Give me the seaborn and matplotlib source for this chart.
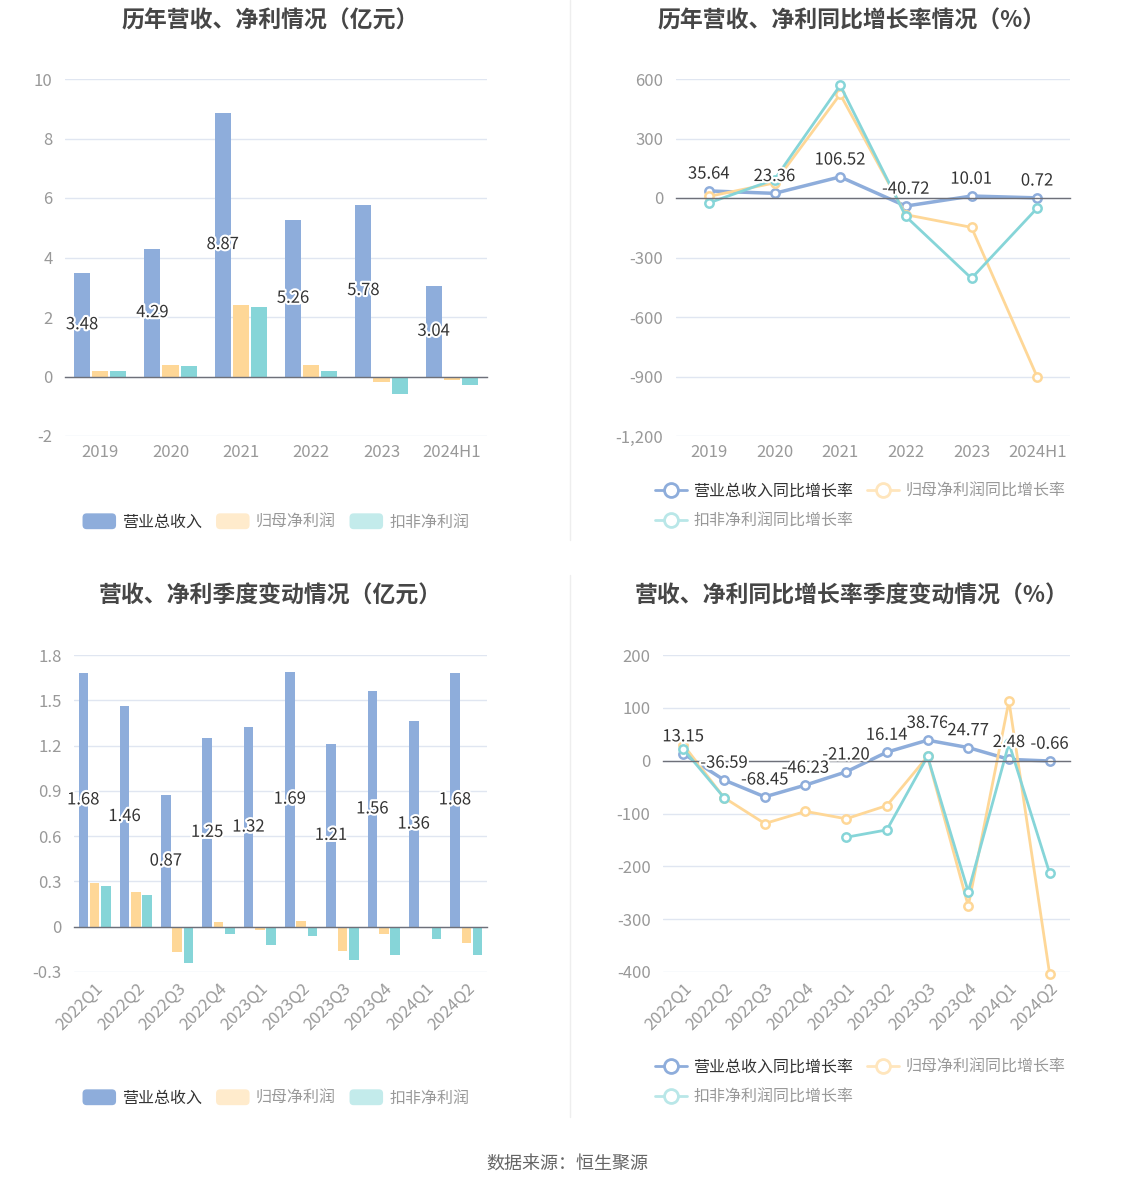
import numpy as np
import pandas as pd
import matplotlib
matplotlib.use("Agg")
import matplotlib.pyplot as plt
import matplotlib.patches as mpatches
import matplotlib.patheffects as pe
from matplotlib.lines import Line2D
from matplotlib.legend_handler import HandlerPatch
from matplotlib.ticker import FuncFormatter
import seaborn as sns

# yearly figures (亿元)
years = ["2019", "2020", "2021", "2022", "2023", "2024H1"]
year_revenue = [3.48, 4.29, 8.87, 5.26, 5.78, 3.04]
year_net = [0.20, 0.38, 2.42, 0.38, -0.19, -0.11]
year_deduct = [0.17, 0.35, 2.35, 0.17, -0.59, -0.27]

# yearly growth (%)
year_revenue_yoy = [35.64, 23.36, 106.52, -40.72, 10.01, 0.72]
year_net_yoy = [8, 76, 523, -84, -148, -902]
year_deduct_yoy = [-25, 93, 568, -93, -405, -51]

# quarterly figures (亿元)
quarters = ["2022Q1", "2022Q2", "2022Q3", "2022Q4", "2023Q1",
            "2023Q2", "2023Q3", "2023Q4", "2024Q1", "2024Q2"]
q_revenue = [1.68, 1.46, 0.87, 1.25, 1.32, 1.69, 1.21, 1.56, 1.36, 1.68]
q_net = [0.29, 0.23, -0.17, 0.03, -0.02, 0.04, -0.16, -0.05, -0.003, -0.11]
q_deduct = [0.27, 0.21, -0.24, -0.05, -0.12, -0.06, -0.22, -0.19, -0.08, -0.19]

# quarterly growth (%)
q_revenue_yoy = [13.15, -36.59, -68.45, -46.23, -21.20, 16.14, 38.76, 24.77, 2.48, -0.66]
q_net_yoy = [30, -70, -119, -96, -110, -85, 8, -275, 113, -404]
q_deduct_yoy = [22, -70, np.nan, np.nan, -145, -131, 8, -248, 33, -213]

bar_names = ["营业总收入", "归母净利润", "扣非净利润"]
line_names = ["营业总收入同比增长率", "归母净利润同比增长率", "扣非净利润同比增长率"]

BLUE = "#8eaddb"
YELLOW = "#fed797"
CYAN = "#86d5d8"
LIGHT = ["#8eaddb", "#ffebcc", "#c3ebeb"]
LIGHT_LINE = ["#8eaddb", "#ffe6bd", "#b9e7e8"]
GRID = "#e0e6f1"
AXIS = "#6e7079"
TICK = "#999999"
DARK = "#333333"

W, H = 1134, 1188
halo = [pe.withStroke(linewidth=3, foreground="white")]


def fx(px):
    return px / W


def fy(py):
    return 1 - py / H


def make_axes(fig, left, right, top, bottom):
    return fig.add_axes([fx(left), fy(bottom), fx(right - left), (bottom - top) / H])


def style_axes(ax, cats, rotate=False):
    ax.set_xlabel("")
    ax.set_ylabel("")
    for s in ["top", "right", "left"]:
        ax.spines[s].set_visible(False)
    ax.spines["bottom"].set_position(("data", 0))
    ax.spines["bottom"].set_color(AXIS)
    ax.spines["bottom"].set_linewidth(1)
    ax.tick_params(axis="x", length=5, width=1, color=AXIS, labelbottom=False, direction="out")
    ax.tick_params(axis="y", length=0, labelcolor=TICK, labelsize=12, pad=9)
    ax.grid(axis="y", color=GRID, lw=1)
    ax.grid(axis="x", visible=False)
    ax.set_axisbelow(True)
    ax.set_xlim(-0.5, len(cats) - 0.5)

    sec = ax.secondary_xaxis("bottom")
    sec.set_xticks(range(len(cats)), labels=cats)
    sec.tick_params(length=0, labelcolor=TICK, labelsize=12, pad=6)
    sec.spines["bottom"].set_visible(False)
    if rotate:
        plt.setp(sec.get_xticklabels(), rotation=45, ha="right", rotation_mode="anchor")


def draw_bars(ax, cats, revenue, net, deduct, width, gap):
    df = pd.DataFrame({
        "cat": cats * 3,
        "value": revenue + net + deduct,
        "series": [bar_names[0]] * len(cats) + [bar_names[1]] * len(cats) + [bar_names[2]] * len(cats),
    })
    sns.barplot(data=df, x="cat", y="value", hue="series", hue_order=bar_names,
                palette=dict(zip(bar_names, [BLUE, YELLOW, CYAN])), saturation=1,
                width=width, gap=gap, linewidth=0, legend=False, ax=ax)
    ax.bar_label(ax.containers[0], labels=[f"{v:.2f}" for v in revenue], label_type="center",
                 fontsize=12, color=DARK, path_effects=halo)


def draw_lines(ax, cats, revenue_yoy, net_yoy, deduct_yoy):
    series = [(revenue_yoy, BLUE, 2.5), (net_yoy, YELLOW, 2), (deduct_yoy, CYAN, 2)]
    for values, color, lw in series:
        df = pd.DataFrame({"cat": cats, "value": values})
        df["seg"] = df["value"].isna().cumsum()
        df = df.dropna()
        sns.lineplot(data=df, x="cat", y="value", units="seg", estimator=None, sort=False,
                     color=color, lw=lw, marker="o", markersize=6, markerfacecolor="white",
                     markeredgecolor=color, markeredgewidth=1.8, clip_on=False, ax=ax)
    for i, v in enumerate(revenue_yoy):
        ax.annotate(f"{v:.2f}", (i, v), xytext=(0, 6), textcoords="offset points",
                    ha="center", va="bottom", fontsize=12, color=DARK, path_effects=halo)


def round_box(legend, orig_handle, xdescent, ydescent, width, height, fontsize):
    return mpatches.FancyBboxPatch((-xdescent, -ydescent), width, height,
                                   boxstyle="round,pad=0,rounding_size=3")


def bar_legend(fig, cx, cy):
    handles = [mpatches.Patch(facecolor=c, edgecolor="none") for c in LIGHT]
    leg = fig.legend(handles, bar_names, loc="center", bbox_to_anchor=(fx(cx), fy(cy)),
                     ncol=3, frameon=False, fontsize=11.5, handlelength=2.1, handleheight=1.15,
                     handletextpad=0.4, columnspacing=0.85,
                     handler_map={mpatches.Patch: HandlerPatch(patch_func=round_box)})
    for i, t in enumerate(leg.get_texts()):
        t.set_color(DARK if i == 0 else TICK)


def line_legend(fig, cx, cy):
    handles = [Line2D([], [], color=c, lw=2, marker="o", markersize=10,
                      markerfacecolor="white", markeredgecolor=c, markeredgewidth=2)
               for c in LIGHT_LINE]
    order = [0, 2, 1]
    leg = fig.legend([handles[i] for i in order], [line_names[i] for i in order],
                     loc="center", bbox_to_anchor=(fx(cx), fy(cy)), ncol=2, frameon=False,
                     fontsize=11.5, handlelength=2.0, handletextpad=0.4, columnspacing=0.85,
                     labelspacing=0.8)
    for i, t in zip(order, leg.get_texts()):
        t.set_color(DARK if i == 0 else TICK)


def main():
    sns.set_theme(style="white")
    plt.rcParams["font.family"] = ["Noto Sans CJK SC", "DejaVu Sans"]
    plt.rcParams["axes.unicode_minus"] = False

    fig = plt.figure(figsize=(W / 100, H / 100), dpi=100)
    fig.patch.set_facecolor("white")

    title_kw = dict(fontsize=16.5, fontweight="bold", color="#464646", ha="center", va="center")
    fig.text(fx(270), fy(21), "历年营收、净利情况（亿元）", **title_kw)
    fig.text(fx(852), fy(21), "历年营收、净利同比增长率情况（%）", **title_kw)
    fig.text(fx(270), fy(596), "营收、净利季度变动情况（亿元）", **title_kw)
    fig.text(fx(852), fy(596), "营收、净利同比增长率季度变动情况（%）", **title_kw)

    # 1. yearly bars
    ax1 = make_axes(fig, 65, 487, 79, 436)
    draw_bars(ax1, years, year_revenue, year_net, year_deduct, width=0.77, gap=0.11)
    ax1.set_ylim(-2, 10)
    ax1.set_yticks(range(-2, 11, 2))
    style_axes(ax1, years)
    bar_legend(fig, 276, 522)

    # 2. yearly growth
    ax2 = make_axes(fig, 676, 1070, 79, 436)
    draw_lines(ax2, years, year_revenue_yoy, year_net_yoy, year_deduct_yoy)
    ax2.set_ylim(-1200, 600)
    ax2.set_yticks(range(-1200, 601, 300))
    ax2.yaxis.set_major_formatter(FuncFormatter(lambda v, p: f"{v:,.0f}"))
    style_axes(ax2, years)
    line_legend(fig, 860, 506)

    # 3. quarterly bars
    ax3 = make_axes(fig, 74, 487, 655, 972)
    draw_bars(ax3, quarters, q_revenue, q_net, q_deduct, width=0.82, gap=0.15)
    ax3.set_ylim(-0.3, 1.8)
    ax3.set_yticks(np.arange(-0.3, 1.81, 0.3))
    ax3.yaxis.set_major_formatter(FuncFormatter(lambda v, p: "0" if abs(v) < 1e-9 else f"{v:.1f}"))
    style_axes(ax3, quarters, rotate=True)
    bar_legend(fig, 276, 1098)

    # 4. quarterly growth
    ax4 = make_axes(fig, 663, 1070, 655, 972)
    draw_lines(ax4, quarters, q_revenue_yoy, q_net_yoy, q_deduct_yoy)
    ax4.set_ylim(-400, 200)
    ax4.set_yticks(range(-400, 201, 100))
    style_axes(ax4, quarters, rotate=True)
    line_legend(fig, 860, 1082)

    # separators and source
    fig.add_artist(Line2D([fx(570), fx(570)], [fy(0), fy(540)], color="#eeeeee", lw=1))
    fig.add_artist(Line2D([fx(570), fx(570)], [fy(575), fy(1117)], color="#eeeeee", lw=1))
    fig.text(fx(567), fy(1164), "数据来源：恒生聚源", fontsize=13, color="#666666",
             ha="center", va="center")

    fig.savefig("out.png", dpi=100, facecolor="white")
    plt.close(fig)


if __name__ == "__main__":
    main()
